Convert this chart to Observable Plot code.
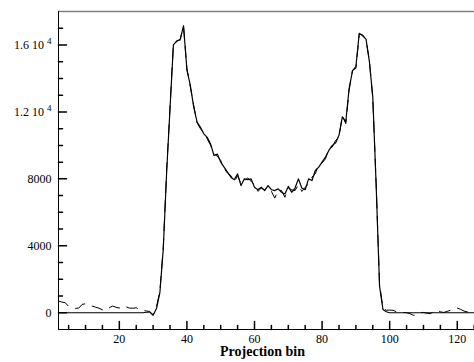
<!DOCTYPE html>
<html><head><meta charset="utf-8">
<script src="https://cdn.jsdelivr.net/npm/d3@7"></script>
<script src="https://cdn.jsdelivr.net/npm/@observablehq/plot@0.6"></script>
<style>body{margin:0;background:#fff}</style>
</head><body><div id="chart"></div>
<script>
const bins = d3.range(2, 126);
const solid = [
 0,0,0,0,0,0,0,0,0,0, 0,0,0,0,0,0,0,0,0,0, 0,0,0,0,0,0,30,40,-150,250,
 1200,3800,8400,12200,16000,16250,16300,17150,14500,13600,
 12300,11400,11080,10690,10480,10090,9400,9480,9000,8700,
 8400,8100,7950,8300,7600,8000,7950,8000,7500,7350,
 7500,7300,7600,7350,7300,7400,7200,7100,7550,7200,
 7450,8000,7450,7350,8000,7900,8500,8700,9000,9300,
 9700,10000,10150,10600,11700,11400,13400,14450,14700,16700,
 16550,16350,15000,12900,7600,1600,200,60,0,0,
 0,0,0,0,0,0,0,0,0,0, 0,0,0,0,0,0,0,0,0,0, 0,0,0,0
];
const dashed = [
 700,640,600,380,300,260,280,500,540,440, 400,330,270,180,140,300,400,330,280,430,
 350,280,270,300,180,130,110,70,-120,350,
 1300,3900,8500,12300,16050,16200,16350,17100,14600,13500,
 12400,11350,11000,10750,10400,10000,9500,9350,9100,8600,
 8350,8200,7800,8200,7700,7900,8050,7850,7650,7250,
 7450,7350,7500,7250,6850,7350,7300,6900,7450,7350,
 7300,7650,7250,7500,7700,8100,8300,8900,8950,9200,
 9800,9900,10300,10500,11800,11300,13300,14500,14600,16650,
 16600,16300,15050,12800,7700,1700,300,150,160,150,
 60,0,20,0,-50,-150,-130,0,20,-30, -50,50,150,60,20,80,150,250,280,200,
 100,50,30,20
];
const xMajor = [20, 40, 60, 80, 100, 120];
const xMinor = [5, 10, 15, 25, 30, 35, 45, 50, 55, 65, 70, 75, 85, 90, 95, 105, 110, 115, 125];
const yMajor = [0, 4000, 8000, 12000, 16000];
const yMinor = [1000, 2000, 3000, 5000, 6000, 7000, 9000, 10000, 11000, 13000, 14000, 15000, 17000];
const yTickLabels = ["0", "4000", "8000", "1.2 10^4", "1.6 10^4"];
const xLabel = "Projection bin";
const serif = "'Liberation Serif', 'Times New Roman', serif";

const rows = bins.map((b, i) => ({bin: b, solid: solid[i], dashed: dashed[i]}));
const tickShape = {draw(ctx, l) { ctx.moveTo(0, 0); ctx.lineTo(0, -l); }};

const chart = Plot.plot({
  width: 474, height: 362,
  marginLeft: 58, marginRight: 0, marginTop: 11, marginBottom: 33,
  style: {fontFamily: serif, fontSize: "12px", color: "#000", background: "#fff"},
  x: {domain: [2, 125.1]},
  y: {domain: [-1000, 18000]},
  marks: [
    Plot.ruleY([18000], {stroke: "#808080", strokeWidth: 1.5}),
    Plot.lineY(rows, {x: "bin", y: "dashed", stroke: "#000", strokeWidth: 1, strokeDasharray: "11,8"}),
    Plot.lineY(rows, {x: "bin", y: "solid", stroke: "#000", strokeWidth: 1.2}),
    Plot.ruleX([2], {stroke: "#000"}),
    Plot.ruleY([-1000], {stroke: "#000"}),
    Plot.vector(yMajor, {y: d => d, frameAnchor: "left", length: 8, rotate: 90, anchor: "start", shape: tickShape, stroke: "#000"}),
    Plot.vector(yMinor, {y: d => d, frameAnchor: "left", length: 4, rotate: 90, anchor: "start", shape: tickShape, stroke: "#000"}),
    Plot.vector(xMajor, {x: d => d, frameAnchor: "bottom", length: 8, rotate: 0, anchor: "start", shape: tickShape, stroke: "#000"}),
    Plot.vector(xMinor, {x: d => d, frameAnchor: "bottom", length: 4, rotate: 0, anchor: "start", shape: tickShape, stroke: "#000"}),
    Plot.axisY({ticks: yMajor, tickSize: 0, tickPadding: 7, tickFormat: d => yTickLabels[yMajor.indexOf(d)], label: null, fontFamily: serif, fontSize: 12, fill: "#000"}),
    Plot.axisX({ticks: xMajor, tickSize: 0, tickPadding: 5, tickFormat: d => String(d), label: null, fontFamily: serif, fontSize: 12, fill: "#000"}),
    Plot.text([xLabel], {text: d => d, frameAnchor: "bottom", dy: 22.5, dx: -4, fontWeight: "bold", fontSize: 14, lineAnchor: "middle", fontFamily: serif, fill: "#000"})
  ]
});

d3.select(chart).selectAll('g[aria-label="y-axis tick label"] text').each(function() {
  const t = this.textContent;
  if (t.includes("^")) {
    const [base, exp] = t.split("^");
    this.textContent = "";
    d3.select(this).append("tspan").text(base);
    d3.select(this).append("tspan").attr("dx", 3).attr("dy", "-0.5em").attr("font-size", "9px").text(exp);
  }
});
document.getElementById("chart").appendChild(chart);
</script>
</body></html>
